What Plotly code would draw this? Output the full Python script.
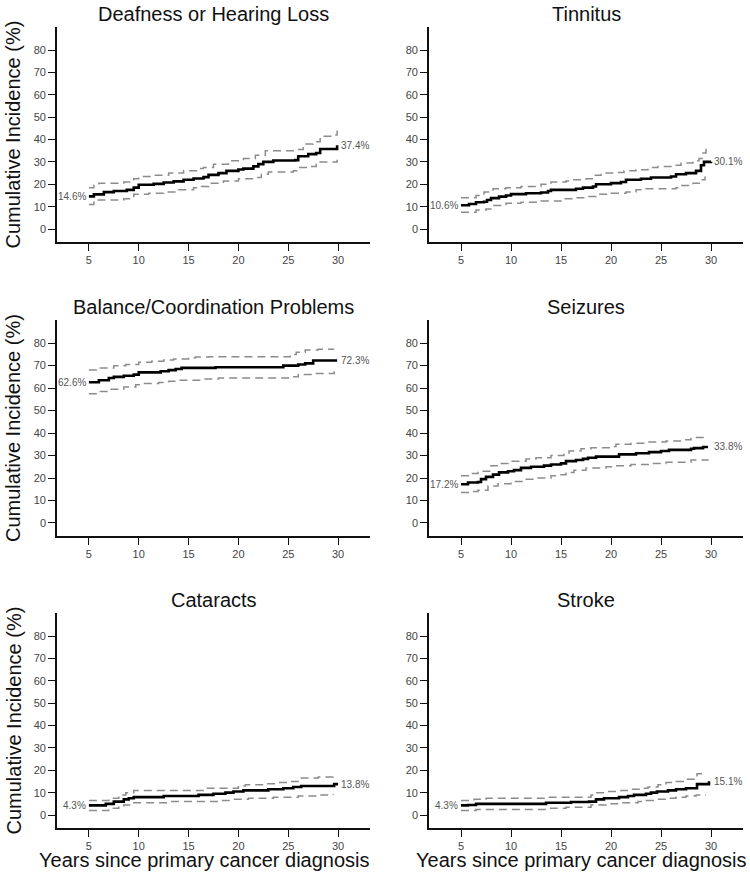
import plotly.graph_objects as go

# ---------------- data ----------------
titles = ["Deafness or Hearing Loss", "Tinnitus", "Balance/Coordination Problems",
          "Seizures", "Cataracts", "Stroke"]
start_labels = ["14.6%", "10.6%", "62.6%", "17.2%", "4.3%", "4.3%"]
start_values = [14.6, 10.6, 62.6, 17.2, 4.3, 4.3]
end_labels = ["37.4%", "30.1%", "72.3%", "33.8%", "13.8%", "15.1%"]
end_values = [37.4, 30.1, 72.3, 33.8, 13.8, 15.1]

x_ticks = [5, 10, 15, 20, 25, 30]
y_ticks = [0, 10, 20, 30, 40, 50, 60, 70, 80]

# Deafness or Hearing Loss
deaf_t = [5, 5.5, 6.5, 7.5, 8.8, 9.5, 10, 11.5, 12.5, 13.5, 14.5, 15.5, 16.5, 17, 18, 18.8, 20, 20.5,
          21.5, 22, 22.5, 23.5, 25.7, 26, 27, 27.8, 28.2, 29.7, 29.9]
deaf_v = [14.6, 15.5, 16.5, 17, 17.5, 18.5, 19.8, 20.2, 20.8, 21.3, 22, 22.6, 23.2, 24.2, 25, 26, 26.6, 27,
          28, 29, 30, 30.6, 30.8, 32.5, 33.5, 34, 35.8, 35.8, 37.4]
deaf_up_t = [5, 5.5, 6, 8.5, 9.5, 10, 11.5, 13, 14.5, 16, 16.5, 17.5, 19, 20.5, 21.7, 22.7, 25.5, 26.5,
             27.5, 28.2, 29.7, 29.9]
deaf_up_v = [18.5, 19.5, 20.5, 21, 22.5, 23.5, 24, 25, 26, 27, 27.5, 29, 30.5, 31.5, 33, 35, 35.5, 38,
             39, 41.5, 42, 44]
deaf_lo_t = [5, 5.5, 8.5, 9.5, 11, 12.5, 14, 15.5, 16.3, 17, 18.5, 20, 21.5, 22.3, 23, 25.5, 26, 27,
             27.8, 28.2, 29.9]
deaf_lo_v = [11, 13, 13.5, 15.5, 16, 16.5, 17.5, 18.5, 19, 20.5, 21.5, 22.5, 23, 24.5, 25.5, 26, 27.5, 28,
             29, 30, 31]

# Tinnitus
tinn_t = [5, 5.8, 6.5, 7.3, 7.6, 8, 8.8, 9.5, 10, 11.5, 13, 13.7, 14, 16.5, 17.2, 18.2, 18.5, 20, 21,
          21.5, 23, 24, 26, 26.5, 27.5, 28.5, 29, 29.3, 30]
tinn_v = [10.6, 11.2, 12, 12.2, 13, 13.8, 14.5, 15, 15.6, 16, 16.3, 17, 17.5, 18, 18.5, 19, 20, 20.5, 21,
          22, 22.5, 23, 23.5, 24.5, 25, 26, 28.5, 30, 30.1]
tinn_up_t = [5, 6.5, 7.3, 8.2, 9.5, 11, 13, 14, 15.5, 16, 17.5, 18.2, 19, 20.5, 21.3, 22.5, 23.7, 24.7,
             26, 27, 28.2, 28.8, 29.2, 29.5]
tinn_up_v = [14, 15, 16.5, 18, 18.5, 19, 20, 21, 21.5, 22, 22.5, 24, 25, 25.3, 26, 26.5, 27.5, 28,
             28.5, 29.5, 30.5, 31.5, 34, 37]
tinn_lo_t = [5, 6.5, 7.5, 8.3, 9.5, 11, 13, 15, 16.5, 17.8, 18.5, 20, 21.5, 22.5, 23.5, 26.5, 27, 28.2,
             29, 29.4]
tinn_lo_v = [7.5, 8.5, 9, 10.5, 11.5, 12, 12.5, 13.5, 14, 14.5, 15.5, 16, 16.5, 17.5, 18, 18.5, 19.5, 20.5,
             22, 23.5]

# Balance/Coordination Problems
bal_t = [5, 6, 7, 7.5, 8.5, 9.5, 10, 12.2, 13, 13.7, 14.3, 17.7, 24.5, 26, 26.7, 27.5, 29.9]
bal_v = [62.6, 63.5, 64.5, 65, 65.5, 66, 67, 67.5, 68, 68.5, 69, 69.3, 70, 70.5, 71, 72.3, 72.3]
bal_up_t = [5, 6, 7.5, 8.7, 10, 11.3, 12.5, 13.5, 15, 15.7, 17, 24.7, 25.2, 25.8, 26.7, 28, 29.6]
bal_up_v = [68, 69, 70, 70.5, 71.5, 72, 72.5, 73, 73.5, 73.8, 74, 74, 75, 76, 77, 77.3, 77.3]
bal_lo_t = [5, 6, 7, 8.5, 9.7, 10.5, 12, 13, 14, 16.5, 18, 24.7, 25, 26, 27.5, 29.6]
bal_lo_v = [57.5, 58.5, 59.5, 60.5, 61.5, 62, 62.5, 63, 63.5, 64, 64.5, 64.5, 65, 66, 66.5, 67.5]

# Seizures
seiz_t = [5, 5.7, 6.7, 7, 7.5, 8.2, 8.8, 9.7, 10.3, 11, 12, 13.3, 14, 15, 15.5, 16.5, 17.2, 17.7, 18.5,
          20.8, 22.5, 23.8, 25, 25.8, 28, 28.3, 29.2, 29.7]
seiz_v = [17.2, 18, 18.2, 19.5, 20.5, 21.5, 22.5, 23, 23.5, 24.5, 25, 25.5, 26, 26.5, 27.5, 28, 28.5, 29,
          29.5, 30.5, 31, 31.5, 32, 32.5, 33, 33.3, 33.8, 33.8]
seiz_up_t = [5, 6, 6.7, 8, 8.8, 10, 11.5, 12.5, 14, 15.3, 15.8, 17, 18, 20, 20.5, 22, 23.8, 25.5, 27.3,
             28, 29.3]
seiz_up_v = [21, 22, 23, 25.5, 26.5, 27.5, 28.5, 29, 30, 31, 32, 33, 33.5, 34, 35, 35.5, 36, 36.5, 37,
             38, 39.5]
seiz_lo_t = [5, 6, 6.7, 7.7, 8.7, 10, 11.3, 12.5, 14, 15, 15.5, 16.3, 17.5, 19.5, 20.5, 22, 24, 25.5,
             28, 29.7]
seiz_lo_v = [13.5, 14, 14.5, 16.5, 17.5, 18.5, 19.5, 20, 21, 21.5, 22.5, 23.5, 24.5, 25, 25.5, 26, 26.5,
             27, 28, 28.3]

# Cataracts
cat_t = [5, 6.7, 7.5, 8.5, 9, 9.5, 12.5, 16, 17.5, 18.7, 19.5, 20.5, 23, 24.5, 25.5, 26.3, 29.6, 30]
cat_v = [4.3, 5, 6, 7, 7.5, 8, 8.5, 9, 9.5, 10, 10.5, 11, 11.5, 12, 12.5, 13, 13.8, 13.8]
cat_up_t = [5, 7, 8, 8.7, 9.5, 16.7, 20, 20.7, 22.5, 24, 25.2, 26.2, 28, 29.5]
cat_up_v = [6.5, 7.5, 9, 10, 11, 12, 13, 13.5, 14, 14.5, 15, 16.5, 17, 18.5]
cat_lo_t = [5, 7, 8, 8.5, 9.5, 13, 18, 19.3, 21, 23.5, 26, 28, 29.5]
cat_lo_v = [2, 3, 4, 4.5, 5.5, 6, 6.5, 7, 7.5, 8, 8.5, 9, 9.5]

# Stroke
str_t = [5, 5.7, 6.5, 13.5, 16, 17.8, 18.5, 19.3, 20.8, 21.7, 22.3, 23.5, 24, 24.6, 25.7, 26.5, 27.5,
         28.6, 29.8]
str_v = [4.3, 4.5, 5, 5.5, 5.8, 6, 7, 7.5, 8, 8.5, 9, 9.5, 10, 10.5, 11, 11.5, 12, 13.8, 15.1]
str_up_t = [5, 6.3, 7.5, 13.5, 18, 18.5, 19.7, 21, 22, 23, 23.7, 24.7, 25.5, 26.5, 27.5, 28.6, 29.5]
str_up_v = [6.5, 7, 7.5, 8, 9, 10, 10.5, 11, 11.5, 12, 12.5, 13.5, 14.5, 15, 16, 18.5, 18.5]
str_lo_t = [5, 6.5, 13.5, 15.5, 18, 19.5, 21, 22.7, 23.5, 24.5, 25.7, 26.5, 27.5, 28.5, 29.5]
str_lo_v = [2, 2.5, 3, 3.5, 4.5, 5, 5.5, 6, 6.5, 7, 7.5, 8, 8.5, 9, 9]

panels = [
    (deaf_t, deaf_v, deaf_up_t, deaf_up_v, deaf_lo_t, deaf_lo_v),
    (tinn_t, tinn_v, tinn_up_t, tinn_up_v, tinn_lo_t, tinn_lo_v),
    (bal_t, bal_v, bal_up_t, bal_up_v, bal_lo_t, bal_lo_v),
    (seiz_t, seiz_v, seiz_up_t, seiz_up_v, seiz_lo_t, seiz_lo_v),
    (cat_t, cat_v, cat_up_t, cat_up_v, cat_lo_t, cat_lo_v),
    (str_t, str_v, str_up_t, str_up_v, str_lo_t, str_lo_v),
]

# ---------------- layout geometry ----------------
W, H = 750, 879


def px_x(p):
    return p / W


def px_y(p):
    return 1 - p / H


x_doms = [[px_x(57), px_x(370)], [px_x(429), px_x(743)]]
y_doms = [[px_y(242), px_y(27)], [px_y(536), px_y(320)], [px_y(828), px_y(613)]]
xtitle_centers = [px_x(204), px_x(581)]

FONT = "Liberation Sans, Arial, sans-serif"
fig = go.Figure()
annotations = []
layout_axes = {}

for i, (t, v, ut, uv, lt, lv) in enumerate(panels):
    r, c = divmod(i, 2)
    n = "" if i == 0 else str(i + 1)
    xa, ya = "x" + n, "y" + n
    for tt, vv in ((ut, uv), (lt, lv)):
        fig.add_trace(go.Scatter(x=tt, y=vv, mode="lines", line_shape="hv",
                                 line=dict(color="#8c8c8c", width=1.5, dash="8px,5px"),
                                 xaxis=xa, yaxis=ya, showlegend=False, hoverinfo="skip"))
    fig.add_trace(go.Scatter(x=t, y=v, mode="lines", line_shape="hv",
                             line=dict(color="black", width=2.6),
                             xaxis=xa, yaxis=ya, showlegend=False))
    layout_axes["xaxis" + n] = dict(
        domain=x_doms[c], anchor=ya, range=[1.8, 33.2], tickvals=x_ticks,
        showline=True, linecolor="#111", linewidth=1.6, ticks="outside", ticklen=7,
        tickwidth=1.4, tickcolor="#111", showgrid=False, zeroline=False,
        tickfont=dict(family=FONT, size=11, color="#444"))
    layout_axes["yaxis" + n] = dict(
        domain=y_doms[r], anchor=xa, range=[-5.8, 90.3], tickvals=y_ticks,
        showline=True, linecolor="#111", linewidth=1.6, ticks="outside", ticklen=7,
        tickwidth=1.4, tickcolor="#111", showgrid=False, zeroline=False,
        tickfont=dict(family=FONT, size=11, color="#444"))
    # panel title
    annotations.append(dict(text=titles[i], xref="paper", yref="paper",
                            x=sum(x_doms[c]) / 2, y=y_doms[r][1], xanchor="center",
                            yanchor="bottom", yshift=0, showarrow=False,
                            font=dict(family=FONT, size=20, color="#111")))
    # start / end labels
    annotations.append(dict(text=start_labels[i], xref=xa, yref=ya, x=5, y=start_values[i],
                            xanchor="right", yanchor="middle", xshift=-1, showarrow=False,
                            font=dict(family=FONT, size=10, color="#555")))
    annotations.append(dict(text=end_labels[i], xref=xa, yref=ya, x=30, y=end_values[i],
                            xanchor="left", yanchor="middle", xshift=1, showarrow=False,
                            font=dict(family=FONT, size=10, color="#555")))
    if c == 0:
        annotations.append(dict(text="Cumulative Incidence (%)", xref="paper", yref="paper",
                                x=px_x(13), y=sum(y_doms[r]) / 2, xanchor="center",
                                yanchor="middle", textangle=-90, showarrow=False,
                                font=dict(family=FONT, size=20, color="#111")))
    if r == 2:
        annotations.append(dict(text="Years since primary cancer diagnosis", xref="paper",
                                yref="paper", x=xtitle_centers[c], y=px_y(860),
                                xanchor="center", yanchor="middle", showarrow=False,
                                font=dict(family=FONT, size=20, color="#111")))

fig.update_layout(width=W, height=H, autosize=False,
                  margin=dict(l=0, r=0, t=0, b=0),
                  paper_bgcolor="white", plot_bgcolor="white",
                  annotations=annotations, **layout_axes)

# remove the browser's default 8px body margin so the figure fills the window
fig.write_html("out.html", config={"displayModeBar": False},
               post_script="document.body.style.margin='0px';document.body.style.overflow='hidden';")
